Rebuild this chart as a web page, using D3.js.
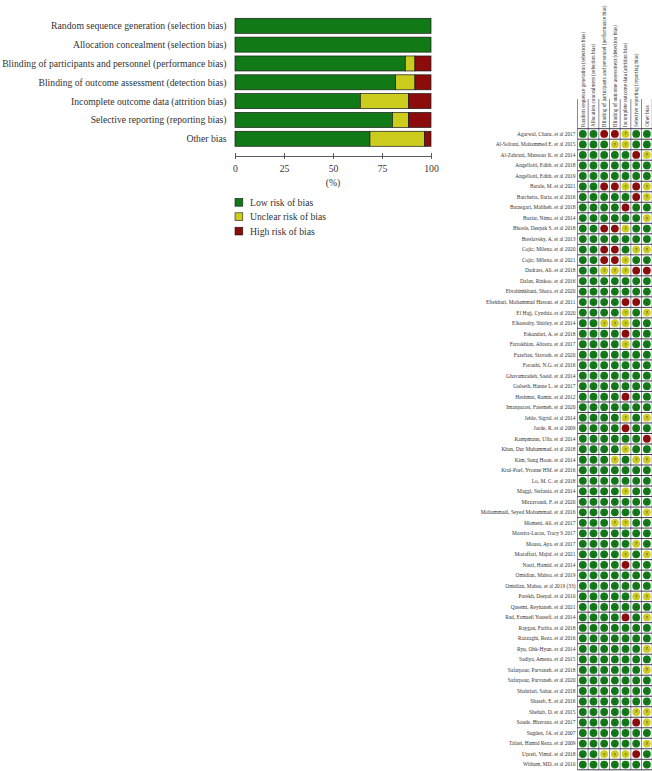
<!DOCTYPE html>
<html>
<head>
<meta charset="utf-8">
<script src="https://cdn.jsdelivr.net/npm/d3@7"></script>
<style>
  html, body { margin: 0; padding: 0; background: #fff; }
  svg { display: block; }
  text { font-family: 'Liberation Serif', 'DejaVu Serif', serif; fill: #333; }
</style>
</head>
<body>
<div id="chart"></div>
<script>
// risk of bias domains (columns of the summary, rows of the graph)
const domains = [
  'Random sequence generation (selection bias)',
  'Allocation concealment (selection bias)',
  'Blinding of participants and personnel (performance bias)',
  'Blinding of outcome assessment (detection bias)',
  'Incomplete outcome data (attrition bias)',
  'Selective reporting (reporting bias)',
  'Other bias'
];

const studies = [
  'Agarwal, Charu. et al 2017', 'Al-Soltani, Mohammed E. et al 2015', 'Al-Zahrani, Mansour K. et al 2014',
  'Angellotti, Edith. et al 2018', 'Angellotti, Edith. et al 2019', 'Barale, M. et al 2021',
  'Barchetta, Ilaria. et al 2016', 'Barzegari, Maliheh. et al 2018', 'Baziar, Nima. et al 2014',
  'Bhosle, Deepak S. et al 2018', 'Breslavsky, A. et al 2013', 'Cojic, Milena. et al 2020',
  'Cojic, Milena. et al 2021', 'Dadrass, Ali. et al 2018', 'Dalan, Rinkoo. et al 2016',
  'Ebrahimkhani, Shora. et al 2020', 'Eftekhari, Mohammad Hassan. et al 2011', 'El Hajj, Cynthia. et al 2020',
  'Elkassaby, Shirley. et al 2014', 'Eskandari, A. et al 2018', 'Farrokhian, Alireza. et al 2017',
  'Fazelian, Siavash. et al 2020', 'Forouhi, N.G. et al 2016', 'Ghavamzadeh, Saeid. et al 2014',
  'Gulseth, Hanne L. et al 2017', 'Heshmat, Ramin. et al 2012', 'Imanparast, Fatemeh. et al 2020',
  'Jehle, Sigrid. et al 2014', 'Jorde, R. et al 2009', 'Kampmann, Ulla. et al 2014',
  'Khan, Dur Muhammad. et al 2018', 'Kim, Sung Hoon. et al 2014', 'Krul-Poel, Yvonne HM. et al 2016',
  'Lo, M. C. et al 2018', 'Maggi, Stefania. et al 2014', 'Mirzavandi, F. et al 2020',
  'Mohammadi, Seyed Mohammad. et al 2016', 'Momeni, Ali. et al 2017', 'Moreira-Lucas, Tracy S 2017',
  'Mousa, Aya. et al 2017', 'Mozaffari, Majid. et al 2021', 'Nasri, Hamid. et al 2014',
  'Omidian, Mahsa. et al 2019', 'Omidian, Mahsa. et al 2019 (33)', 'Parekh, Deepal. et al 2010',
  'Qasemi, Reyhaneh. et al 2021', 'Rad, Esmaeil Yousefi. et al 2014', 'Raygan, Fariba. et al 2018',
  'Razzaghi, Reza. et al 2016', 'Ryu, Ohk-Hyun. et al 2014', 'Sadiya, Amena. et al 2015',
  'Safarpour, Parvaneh. et al 2018', 'Safarpour, Parvaneh. et al 2020', 'Shahriari, Sahar. et al 2018',
  'Shaseb, E. et al 2016', 'Shehab, D. et al 2015', 'Soude, Bhavana. et al 2017',
  'Sugden, JA. et al 2007', 'Talaei, Hamid Reza. et al 2009', 'Upreti, Vimal. et al 2018',
  'Witham, MD. et al 2010'
];

// one string per study, one char per domain: + low, ? unclear, - high
const judgements = [
  '++--?++', '+++??++', '+++++-?', '+++++++', '+++++++', '++--?-?',
  '+++++-?', '++++-++', '++++++?', '++--?++', '+++++++', '++--+??',
  '++--?++', '++???--', '+++++++', '+++++++', '++++--+', '++++?+?',
  '++???++', '++++-++', '++++?++', '+++++++', '+++++++', '+++++++',
  '+++++++', '++++-++', '+++++++', '++++?+?', '++++-++', '++++++-',
  '++++?++', '+++?+??', '+++++++', '+++++++', '++++?++', '+++++++',
  '++++++?', '+++??++', '+++++++', '+++++?+', '++++?+?', '++++-++',
  '+++++++', '+++++++', '+++++??', '+++++++', '++++-+?', '+++++++',
  '+++++++', '++++++?', '+++++++', '++++++?', '+++++++', '+++++++',
  '+++++++', '+++++??', '+++++-?', '+++++++', '++++++?', '++???-+',
  '+++++++'
];

const levels = ['+', '?', '-'];
const levelNames = ['Low risk of bias', 'Unclear risk of bias', 'High risk of bias'];
const levelColors = ['#117a17', '#cccc1e', '#8c0b0b'];
const xTicks = [0, 25, 50, 75, 100];

const W = 652, H = 771;
const svg = d3.select('#chart').append('svg')
  .attr('width', W).attr('height', H)
  .attr('viewBox', `0 0 ${W} ${H}`);

const color = d3.scaleOrdinal().domain(levels).range(levelColors);
const fs = 9.7;

// ---- risk of bias graph (stacked percentages) ----
const x = d3.scaleLinear().domain([0, 100]).range([235, 431]);
const y = d3.scaleBand().domain(domains).range([16.4, 148.2]);
const barH = 15;

const stacked = domains.map((dom, i) => {
  let acc = 0;
  return levels.map(lv => {
    const n = judgements.filter(j => j[i] === lv).length;
    const pct = n / judgements.length * 100;
    const seg = { dom, lv, x0: acc, x1: acc + pct };
    acc += pct;
    return seg;
  }).filter(s => s.x1 > s.x0);
});

const bars = svg.append('g').attr('class', 'bars');
bars.selectAll('rect')
  .data(stacked.flat())
  .join('rect')
  .attr('x', d => x(d.x0))
  .attr('y', d => y(d.dom) + (y.bandwidth() - barH) / 2)
  .attr('width', d => x(d.x1) - x(d.x0))
  .attr('height', barH)
  .attr('fill', d => color(d.lv))
  .attr('stroke', '#1a1a1a')
  .attr('stroke-width', 0.7);

svg.append('g').selectAll('text')
  .data(domains)
  .join('text')
  .attr('x', 226.5)
  .attr('y', d => y(d) + y.bandwidth() / 2)
  .attr('dy', '0.35em')
  .attr('text-anchor', 'end')
  .attr('font-size', fs)
  .text(d => d);

const axis = svg.append('g')
  .attr('transform', 'translate(0,156)')
  .call(d3.axisBottom(x).tickValues(xTicks).tickSizeInner(3).tickSizeOuter(0).tickPadding(6));
axis.select('.domain').attr('stroke', '#4a4658').attr('stroke-width', 0.9);
axis.selectAll('.tick line').attr('y1', -3).attr('y2', 3).attr('stroke', '#4a4658').attr('stroke-width', 0.9);
axis.selectAll('.tick text')
  .attr('font-family', "'Liberation Serif', serif")
  .attr('font-size', fs)
  .attr('fill', '#333');

svg.append('text')
  .attr('x', x(50)).attr('y', 185.8)
  .attr('text-anchor', 'middle')
  .attr('font-size', fs)
  .text('(%)');

// legend
const legend = svg.append('g').attr('transform', 'translate(235,198.4)');
const lg = legend.selectAll('g')
  .data(levels)
  .join('g')
  .attr('transform', (d, i) => `translate(0,${i * 14.4})`);
lg.append('rect')
  .attr('width', 7.8).attr('height', 7.8)
  .attr('fill', d => color(d))
  .attr('stroke', '#1a1a1a').attr('stroke-width', 0.6);
lg.append('text')
  .attr('x', 15).attr('y', 4)
  .attr('dy', '0.35em')
  .attr('font-size', fs)
  .text((d, i) => levelNames[i]);

// ---- risk of bias summary (traffic light grid) ----
const gx = d3.scaleBand().domain(d3.range(domains.length)).range([577.5, 652.2]);
const gy = d3.scaleBand().domain(d3.range(studies.length)).range([128.7, 769.8]);
const grid = svg.append('g').attr('class', 'grid');

// column headers, rotated
grid.selectAll('text.head')
  .data(domains)
  .join('text')
  .attr('class', 'head')
  .attr('transform', (d, i) => `translate(${gx(i) + gx.bandwidth() / 2 + 1.8},127) rotate(-90)`)
  .attr('font-size', 5.25)
  .attr('fill', '#555')
  .text(d => d);

// row labels
grid.selectAll('text.study')
  .data(studies)
  .join('text')
  .attr('class', 'study')
  .attr('x', 575.5)
  .attr('y', (d, i) => gy(i) + gy.bandwidth() / 2)
  .attr('dy', '0.35em')
  .attr('text-anchor', 'end')
  .attr('font-size', 5.4)
  .attr('fill', '#444')
  .text(d => d);

// grid lines
grid.selectAll('line.v')
  .data(d3.range(domains.length + 1))
  .join('line')
  .attr('class', 'v')
  .attr('x1', i => i < domains.length ? gx(i) : gx.range()[1])
  .attr('x2', i => i < domains.length ? gx(i) : gx.range()[1])
  .attr('y1', 99)
  .attr('y2', gy.range()[1])
  .attr('stroke', '#6f6a86')
  .attr('stroke-width', 0.8);

grid.selectAll('line.h')
  .data(d3.range(studies.length + 1))
  .join('line')
  .attr('class', 'h')
  .attr('x1', gx.range()[0])
  .attr('x2', gx.range()[1])
  .attr('y1', i => i < studies.length ? gy(i) : gy.range()[1])
  .attr('y2', i => i < studies.length ? gy(i) : gy.range()[1])
  .attr('stroke', '#2d2b3a')
  .attr('stroke-width', 0.9);

// cells
const cells = [];
judgements.forEach((row, r) => {
  row.split('').forEach((lv, c) => cells.push({ r, c, lv }));
});

const cellG = grid.selectAll('g.cell')
  .data(cells)
  .join('g')
  .attr('class', 'cell')
  .attr('transform', d => `translate(${gx(d.c) + gx.bandwidth() / 2},${gy(d.r) + gy.bandwidth() / 2})`);

cellG.append('circle')
  .attr('r', 3.9)
  .attr('fill', d => color(d.lv));

cellG.append('text')
  .attr('text-anchor', 'middle')
  .attr('dy', '0.35em')
  .attr('font-family', "'DejaVu Sans', sans-serif")
  .attr('font-weight', 'bold')
  .attr('font-size', 4.2)
  .attr('fill', d => d.lv === '?' ? '#3a3a10' : (d.lv === '+' ? '#2f9a35' : '#b03030'))
  .text(d => d.lv === '-' ? '−' : d.lv);
</script>
</body>
</html>
